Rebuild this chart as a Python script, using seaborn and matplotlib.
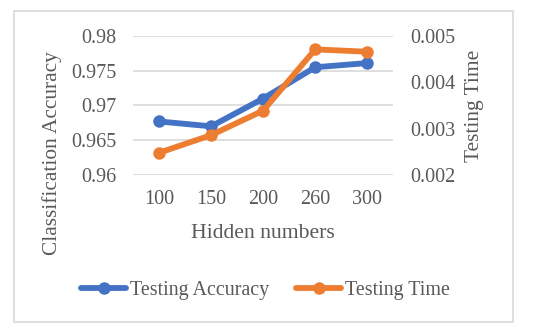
import matplotlib
matplotlib.use("Agg")
import matplotlib.pyplot as plt
import seaborn as sns
import pandas as pd
from matplotlib.patches import Rectangle
from matplotlib.lines import Line2D

# data
hidden_numbers = ["100", "150", "200", "260", "300"]
testing_accuracy = [0.9677, 0.9670, 0.9710, 0.9755, 0.9761]
testing_time = [0.00248, 0.00286, 0.00339, 0.00471, 0.00466]

acc_color = "#4472C4"
time_color = "#ED7D31"
text_color = "#595959"
grid_color = "#D9D9D9"

sns.set_style("white")
plt.rcParams["font.family"] = ["Liberation Serif", "DejaVu Serif"]

df = pd.DataFrame({
    "hidden": hidden_numbers,
    "pos": range(len(hidden_numbers)),
    "acc": testing_accuracy,
    "time": testing_time,
})

fig = plt.figure(figsize=(5.5, 3.33), dpi=100)
ax = fig.add_axes([0.242, 0.4745, 0.473, 0.4175])
ax2 = ax.twinx()

sns.lineplot(data=df, x="pos", y="acc", ax=ax, color=acc_color, marker="o",
             linewidth=4.2, markersize=9, markeredgewidth=0, zorder=3)
sns.lineplot(data=df, x="pos", y="time", ax=ax2, color=time_color, marker="o",
             linewidth=4.2, markersize=9, markeredgewidth=0, zorder=3)

ax.set_xlim(-0.5, len(hidden_numbers) - 0.5)
ax.set_ylim(0.96, 0.98)
ax.set_yticks([0.96, 0.965, 0.97, 0.975, 0.98])
ax.set_yticklabels(["0.96", "0.965", "0.97", "0.975", "0.98"])
ax2.set_ylim(0.002, 0.005)
ax2.set_yticks([0.002, 0.003, 0.004, 0.005])
ax2.set_yticklabels(["0.002", "0.003", "0.004", "0.005"])
ax.set_xticks(df["pos"])
ax.set_xticklabels(hidden_numbers)

ax.yaxis.grid(True, color=grid_color, linewidth=1.2)
ax.set_axisbelow(True)
for a in (ax, ax2):
    for s in a.spines.values():
        s.set_visible(False)
    a.tick_params(length=0, labelsize=14.5, colors=text_color)
ax.tick_params(axis="x", pad=11)
ax.tick_params(axis="y", pad=12)
ax2.tick_params(axis="y", pad=12)

ax.set_xlabel("Hidden numbers", fontsize=15.6, color=text_color)
ax.xaxis.set_label_coords(0.5, -0.35)
ax.set_ylabel("Classification Accuracy", fontsize=15.4, color=text_color)
ax.yaxis.set_label_coords(-0.273, 0.155)
ax2.set_ylabel("Testing Time", fontsize=15.4, color=text_color)
ax2.yaxis.set_label_coords(1.277, 0.5)

handles = [
    Line2D([], [], color=acc_color, marker="o", linewidth=4.2, markersize=9,
           markeredgewidth=0, label="Testing Accuracy"),
    Line2D([], [], color=time_color, marker="o", linewidth=4.2, markersize=9,
           markeredgewidth=0, label="Testing Time"),
]
fig.legend(handles=handles, loc="center", bbox_to_anchor=(0.483, 0.129), ncol=2,
           frameon=False, fontsize=14.4, labelcolor=text_color, handlelength=2.25,
           handletextpad=0.2, columnspacing=1.35)

# light frame around the chart
fig.patches.append(Rectangle((0.025, 0.033), 0.907, 0.935, transform=fig.transFigure,
                             fill=False, edgecolor="#D9D9D9", linewidth=1.2))

fig.savefig("out.png", dpi=100)
